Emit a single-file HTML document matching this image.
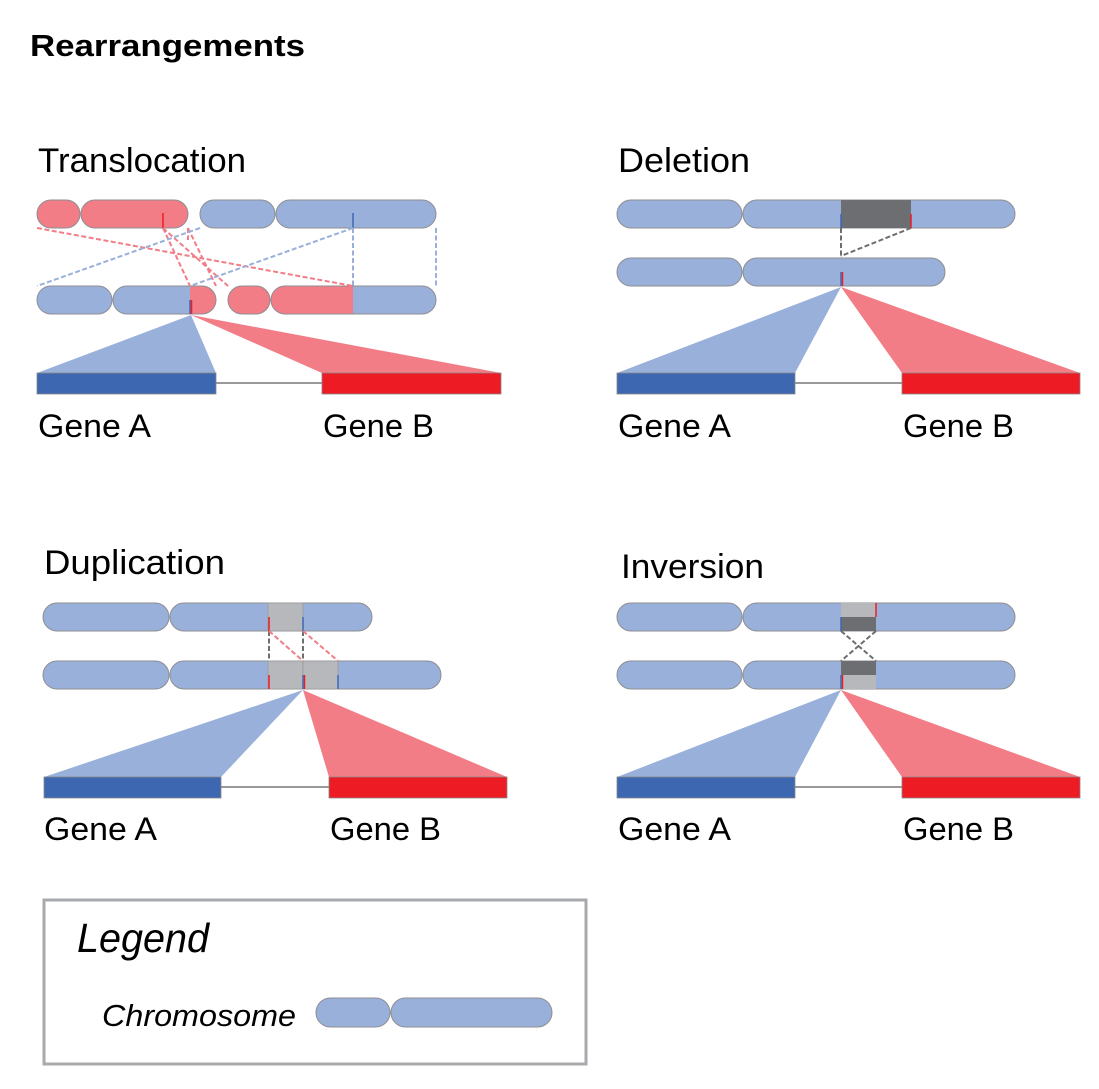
<!DOCTYPE html>
<html><head><meta charset="utf-8"><style>
html,body{margin:0;padding:0;background:#fff;}
svg{display:block;}
text{font-family:"Liberation Sans",sans-serif;fill:#000;}
</style></head><body>
<svg width="1099" height="1089" viewBox="0 0 1099 1089" xmlns="http://www.w3.org/2000/svg">
<defs>
<style>
.cb{fill:#99b1da;stroke:#8e8e93;stroke-width:1;}
.cr{fill:#f27d86;stroke:#8e8e93;stroke-width:1;}
.dr{stroke:#f27d86;stroke-width:2;stroke-dasharray:5,2.5;fill:none;}
.db{stroke:#99b1da;stroke-width:2;stroke-dasharray:5,2.5;fill:none;}
.dg{stroke:#6d6e71;stroke-width:2;stroke-dasharray:5,2.5;fill:none;}
</style>
</defs>
<text x="30" y="56" font-size="31" font-weight="bold" textLength="275" lengthAdjust="spacingAndGlyphs">Rearrangements</text>

<!-- Translocation -->
<text x="38" y="172" font-size="34" textLength="208" lengthAdjust="spacingAndGlyphs">Translocation</text>
<rect class="cr" x="37" y="200" width="43" height="28" rx="14"/>
<rect class="cr" x="81" y="200" width="107" height="28" rx="14"/>
<rect class="cb" x="200" y="200" width="75" height="28" rx="14"/>
<rect class="cb" x="276" y="200" width="160" height="28" rx="14"/>
<line x1="163" y1="213" x2="163" y2="228" stroke="#ed1c24" stroke-width="1.5"/>
<line x1="353" y1="213" x2="353" y2="228" stroke="#3e67b1" stroke-width="1.5"/>

<rect class="cb" x="37" y="286" width="75" height="28" rx="14"/>
<path d="M127,286 H190 V314 H127 A14,14 0 0 1 127,286 Z" fill="#99b1da"/>
<path d="M190,286 H202 A14,14 0 0 1 202,314 H190 Z" fill="#f27d86"/>
<rect x="113" y="286" width="103" height="28" rx="14" fill="none" stroke="#8e8e93"/>
<line x1="190" y1="300" x2="190" y2="314" stroke="#3e67b1" stroke-width="1.5"/>
<line x1="191.5" y1="300" x2="191.5" y2="314" stroke="#ed1c24" stroke-width="1.5"/>
<rect class="cr" x="228" y="286" width="42" height="28" rx="14"/>
<path d="M285,286 H353 V314 H285 A14,14 0 0 1 285,286 Z" fill="#f27d86"/>
<path d="M353,286 H422 A14,14 0 0 1 422,314 H353 Z" fill="#99b1da"/>
<rect x="271" y="286" width="165" height="28" rx="14" fill="none" stroke="#8e8e93"/>

<path class="dr" d="M37,228 L353,286 M163,228 L190,286 M188,228 L216,286 M163,228 L228,286 M188,228 L188,240"/>
<path class="db" d="M200,228 L37,286 M353,228 L190,286 M353,228 L353,286 M436,228 L436,286"/>

<polygon points="191,315 37,373 216,373" fill="#99b1da"/>
<polygon points="191,315 322,373 501,373" fill="#f27d86"/>
<line x1="216" y1="383" x2="322" y2="383" stroke="#333" stroke-width="1"/>
<rect x="37" y="373" width="179" height="21" fill="#3e67b1" stroke="#888" stroke-width="0.8"/>
<rect x="322" y="373" width="179" height="21" fill="#ed1c24" stroke="#888" stroke-width="0.8"/>
<text x="38" y="437" font-size="32" textLength="113" lengthAdjust="spacingAndGlyphs">Gene A</text>
<text x="323" y="437" font-size="32" textLength="111" lengthAdjust="spacingAndGlyphs">Gene B</text>

<!-- Deletion -->
<text x="618" y="172" font-size="34" textLength="132" lengthAdjust="spacingAndGlyphs">Deletion</text>
<rect class="cb" x="617" y="200" width="125" height="28" rx="14"/>
<rect class="cb" x="743" y="200" width="272" height="28" rx="14"/>
<rect x="841" y="200" width="70" height="28" fill="#6d6e71"/>
<line x1="841" y1="214" x2="841" y2="228" stroke="#3e67b1" stroke-width="1.5"/>
<line x1="911" y1="214" x2="911" y2="228" stroke="#ed1c24" stroke-width="1.5"/>
<rect class="cb" x="617" y="258" width="125" height="28" rx="14"/>
<rect class="cb" x="743" y="258" width="202" height="28" rx="14"/>
<line x1="841" y1="272" x2="841" y2="286" stroke="#3e67b1" stroke-width="1.5"/>
<line x1="842.5" y1="272" x2="842.5" y2="286" stroke="#ed1c24" stroke-width="1.5"/>
<path class="dg" d="M841,228 L841,258 M911,228 L841,256"/>
<polygon points="841,287 617,373 795,373" fill="#99b1da"/>
<polygon points="841,287 902,373 1080,373" fill="#f27d86"/>
<line x1="795" y1="383" x2="902" y2="383" stroke="#333" stroke-width="1"/>
<rect x="617" y="373" width="178" height="21" fill="#3e67b1" stroke="#888" stroke-width="0.8"/>
<rect x="902" y="373" width="178" height="21" fill="#ed1c24" stroke="#888" stroke-width="0.8"/>
<text x="618" y="437" font-size="32" textLength="113" lengthAdjust="spacingAndGlyphs">Gene A</text>
<text x="903" y="437" font-size="32" textLength="111" lengthAdjust="spacingAndGlyphs">Gene B</text>

<!-- Duplication -->
<text x="44" y="574" font-size="34" textLength="181" lengthAdjust="spacingAndGlyphs">Duplication</text>
<rect class="cb" x="43" y="603" width="126" height="28" rx="14"/>
<rect class="cb" x="170" y="603" width="202" height="28" rx="14"/>
<rect x="268" y="603" width="35" height="28" fill="#b7b8bb" stroke="#999" stroke-width="0.8"/>
<line x1="269" y1="617" x2="269" y2="631" stroke="#ed1c24" stroke-width="1.5"/>
<line x1="303" y1="617" x2="303" y2="631" stroke="#3e67b1" stroke-width="1.5"/>
<rect class="cb" x="43" y="661" width="126" height="28" rx="14"/>
<rect class="cb" x="170" y="661" width="271" height="28" rx="14"/>
<rect x="268" y="661" width="35" height="28" fill="#b7b8bb" stroke="#999" stroke-width="0.8"/>
<rect x="303" y="661" width="35" height="28" fill="#b7b8bb" stroke="#999" stroke-width="0.8"/>
<line x1="269" y1="675" x2="269" y2="689" stroke="#ed1c24" stroke-width="1.5"/>
<line x1="303" y1="675" x2="303" y2="689" stroke="#3e67b1" stroke-width="1.5"/>
<line x1="304.5" y1="675" x2="304.5" y2="689" stroke="#ed1c24" stroke-width="1.5"/>
<line x1="338" y1="675" x2="338" y2="689" stroke="#3e67b1" stroke-width="1.5"/>
<path class="dg" d="M269,631 L269,661 M303,631 L303,661"/>
<path class="dr" d="M269,631 L303,661 M303,631 L338,661"/>
<polygon points="303,690 44,777 221,777" fill="#99b1da"/>
<polygon points="303,690 329,777 507,777" fill="#f27d86"/>
<line x1="221" y1="787" x2="329" y2="787" stroke="#333" stroke-width="1"/>
<rect x="44" y="777" width="177" height="21" fill="#3e67b1" stroke="#888" stroke-width="0.8"/>
<rect x="329" y="777" width="178" height="21" fill="#ed1c24" stroke="#888" stroke-width="0.8"/>
<text x="44" y="840" font-size="32" textLength="113" lengthAdjust="spacingAndGlyphs">Gene A</text>
<text x="330" y="840" font-size="32" textLength="111" lengthAdjust="spacingAndGlyphs">Gene B</text>

<!-- Inversion -->
<text x="621" y="578" font-size="34" textLength="143" lengthAdjust="spacingAndGlyphs">Inversion</text>
<rect class="cb" x="617" y="603" width="125" height="28" rx="14"/>
<rect class="cb" x="743" y="603" width="272" height="28" rx="14"/>
<rect x="841" y="603" width="35" height="14" fill="#b7b8bb"/>
<rect x="841" y="617" width="35" height="14" fill="#6d6e71"/>
<line x1="876" y1="603" x2="876" y2="617" stroke="#ed1c24" stroke-width="1.5"/>
<line x1="841" y1="617" x2="841" y2="631" stroke="#3e67b1" stroke-width="1.5"/>
<rect class="cb" x="617" y="661" width="125" height="28" rx="14"/>
<rect class="cb" x="743" y="661" width="272" height="28" rx="14"/>
<rect x="841" y="661" width="35" height="14" fill="#6d6e71"/>
<rect x="841" y="675" width="35" height="14" fill="#b7b8bb"/>
<line x1="841" y1="675" x2="841" y2="689" stroke="#3e67b1" stroke-width="1.5"/>
<line x1="842.5" y1="675" x2="842.5" y2="689" stroke="#ed1c24" stroke-width="1.5"/>
<path class="dg" d="M841,631 L876,661 M876,631 L841,661"/>
<polygon points="841,690 617,777 795,777" fill="#99b1da"/>
<polygon points="841,690 902,777 1080,777" fill="#f27d86"/>
<line x1="795" y1="787" x2="902" y2="787" stroke="#333" stroke-width="1"/>
<rect x="617" y="777" width="178" height="21" fill="#3e67b1" stroke="#888" stroke-width="0.8"/>
<rect x="902" y="777" width="178" height="21" fill="#ed1c24" stroke="#888" stroke-width="0.8"/>
<text x="618" y="840" font-size="32" textLength="113" lengthAdjust="spacingAndGlyphs">Gene A</text>
<text x="903" y="840" font-size="32" textLength="111" lengthAdjust="spacingAndGlyphs">Gene B</text>

<!-- Legend -->
<rect x="44" y="900" width="542" height="164" fill="none" stroke="#a7a9ac" stroke-width="3"/>
<text x="77" y="952" font-size="41" font-style="italic" textLength="132" lengthAdjust="spacingAndGlyphs">Legend</text>
<text x="102" y="1026" font-size="31" font-style="italic" textLength="194" lengthAdjust="spacingAndGlyphs">Chromosome</text>
<rect class="cb" x="316" y="998" width="74" height="29" rx="14.5"/>
<rect class="cb" x="391" y="998" width="161" height="29" rx="14.5"/>
</svg>
</body></html>
